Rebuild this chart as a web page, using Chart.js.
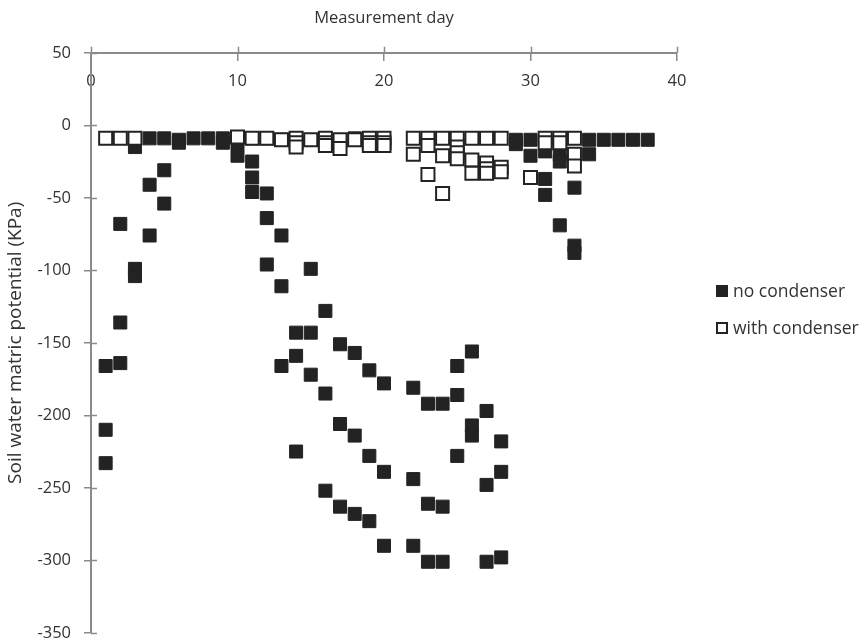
<!DOCTYPE html>
<html>
<head>
<meta charset="utf-8">
<script src="https://cdn.jsdelivr.net/npm/chart.js@4.4.1/dist/chart.umd.min.js"></script>
<style>
  html, body { margin: 0; padding: 0; background: #ffffff; }
  #wrap { width: 864px; height: 644px; }
</style>
</head>
<body>
<div id="wrap"><canvas id="c" width="864" height="644"></canvas></div>
<script>
// Soil water matric potential readings (kPa) by measurement day
const noCondenserDays = [
  1, 1, 1, 2, 2, 2, 3, 3, 3, 4, 4, 4, 5, 5, 5, 6, 6, 7, 8, 9, 9, 10, 10,
  11, 11, 11, 11, 12, 12, 12, 12, 13, 13, 13, 13, 14, 14, 14, 15, 15, 15,
  16, 16, 16, 17, 17, 17, 18, 18, 18, 18, 19, 19, 19, 20, 20, 20,
  22, 22, 22, 23, 23, 23, 24, 24, 24, 25, 25, 25, 26, 26, 26, 27, 27, 27,
  28, 28, 28, 29, 29, 30, 30, 31, 31, 31, 31, 32, 32, 32, 33, 33, 33,
  34, 34, 35, 36, 37, 38
];
const noCondenserValues = [
  -166, -210, -233, -68, -136, -164, -15, -99, -104, -9, -41, -76, -9, -31, -54, -10, -12, -9, -9, -9, -12, -12, -21,
  -9, -25, -36, -46, -9, -47, -64, -96, -10, -76, -111, -166, -143, -159, -225, -99, -143, -172,
  -128, -185, -252, -151, -206, -263, -9, -157, -214, -268, -169, -228, -273, -178, -239, -290,
  -181, -244, -290, -192, -261, -301, -192, -263, -301, -166, -186, -228, -156, -207, -214, -197, -248, -301,
  -218, -239, -298, -10, -13, -10, -21, -10, -18, -37, -48, -20, -25, -69, -43, -83, -88,
  -10, -20, -10, -10, -10, -10
];
const withCondenserDays = [
  1, 2, 3, 10, 11, 12, 13, 14, 14, 14, 15, 16, 16, 16, 17, 17, 18, 19, 19, 19, 20, 20, 20,
  22, 22, 23, 23, 23, 24, 24, 24, 25, 25, 25, 25, 26, 26, 26, 27, 27, 27, 27, 28, 28, 28,
  30, 31, 31, 32, 32, 33, 33, 33
];
const withCondenserValues = [
  -9, -9, -9, -8, -9, -9, -10, -9, -12, -15, -10, -9, -12, -14, -10, -16, -10, -9, -12, -14, -9, -12, -14,
  -9, -20, -9, -14, -34, -9, -21, -47, -9, -15, -19, -23, -9, -24, -33, -9, -26, -30, -33, -9, -29, -32,
  -36, -9, -12, -9, -12, -9, -20, -28
];
const seriesNames = ['no condenser', 'with condenser'];
const dayTicks = [0, 10, 20, 30, 40];
const potentialTicks = [50, 0, -50, -100, -150, -200, -250, -300, -350];

const FONT = "'Open Sans', 'DejaVu Sans', sans-serif";
const TEXT = '#333333';
const AXIS = '#8a8a8a';
const INK = '#232323';

function pairs(xs, ys) { return xs.map((x, i) => ({ x: x, y: ys[i] })); }

// Tick marks that cross the axis line (the library only draws the outer half)
const crossTicks = {
  id: 'crossTicks',
  afterDraw(chart) {
    const { ctx, scales } = chart;
    const xs = scales.x, ys = scales.y;
    const axisY = ys.getPixelForValue(50);
    const axisX = xs.getPixelForValue(0);
    ctx.save();
    ctx.strokeStyle = AXIS;
    ctx.lineWidth = 1.5;
    ctx.beginPath();
    xs.ticks.forEach(t => {
      const px = Math.round(xs.getPixelForValue(t.value)) + 0.5;
      ctx.moveTo(px, axisY - 6);
      ctx.lineTo(px, axisY);
    });
    ys.ticks.forEach(t => {
      const py = Math.round(ys.getPixelForValue(t.value)) + 0.5;
      ctx.moveTo(axisX, py);
      ctx.lineTo(axisX + 6, py);
    });
    ctx.stroke();
    ctx.restore();
  }
};

// Legend to the right of the plot, one row per series
const sideLegend = {
  id: 'sideLegend',
  afterDraw(chart) {
    const { ctx } = chart;
    const x0 = 716, rows = [291, 328], box = 12;
    ctx.save();
    ctx.font = '17.5px ' + FONT;
    ctx.textBaseline = 'middle';
    ctx.textAlign = 'left';
    chart.data.datasets.forEach((ds, r) => {
      const y = rows[r];
      ctx.fillStyle = ds.backgroundColor;
      ctx.fillRect(x0, y - box / 2, box, box);
      ctx.lineWidth = 2;
      ctx.strokeStyle = ds.borderColor;
      ctx.strokeRect(x0 + 1, y - box / 2 + 1, box - 2, box - 2);
      ctx.fillStyle = TEXT;
      ctx.fillText(ds.label, x0 + box + 5, y + 1);
    });
    ctx.restore();
  }
};

new Chart(document.getElementById('c'), {
  type: 'scatter',
  data: {
    datasets: [
      {
        label: seriesNames[0],
        data: pairs(noCondenserDays, noCondenserValues),
        pointStyle: 'rect',
        pointRadius: 9.2,
        pointHoverRadius: 9.2,
        backgroundColor: INK,
        borderColor: INK,
        borderWidth: 1,
        order: 2
      },
      {
        label: seriesNames[1],
        data: pairs(withCondenserDays, withCondenserValues),
        pointStyle: 'rect',
        pointRadius: 9.2,
        pointHoverRadius: 9.2,
        backgroundColor: '#ffffff',
        borderColor: INK,
        borderWidth: 2,
        order: 1
      }
    ]
  },
  options: {
    responsive: false,
    animation: false,
    events: [],
    layout: { padding: { left: 0, right: 187, top: 0, bottom: 11 } },
    plugins: {
      legend: { display: false },
      tooltip: { enabled: false },
      title: {
        display: true,
        text: 'Measurement day',
        fullSize: false,
        color: TEXT,
        font: { family: FONT, size: 16.5, weight: 'normal' },
        padding: { top: 8, bottom: 25 }
      }
    },
    scales: {
      x: {
        type: 'linear',
        position: { y: 50 },
        min: 0,
        max: 40,
        afterBuildTicks: s => { s.ticks = dayTicks.map(v => ({ value: v })); },
        grid: { display: true, drawOnChartArea: false, drawTicks: true, tickLength: 7, color: AXIS, lineWidth: 1.5 },
        border: { display: true, color: AXIS, width: 2 },
        ticks: { color: TEXT, font: { family: FONT, size: 16.5 }, padding: 12, maxRotation: 0 }
      },
      y: {
        type: 'linear',
        position: 'left',
        min: -350,
        max: 50,
        afterBuildTicks: s => { s.ticks = potentialTicks.map(v => ({ value: v })); },
        afterFit: s => { s.width = 91; s.paddingTop = 0; s.paddingBottom = 0; },
        grid: { display: true, drawOnChartArea: false, drawTicks: true, tickLength: 7, color: AXIS, lineWidth: 1.5 },
        border: { display: true, color: AXIS, width: 2 },
        ticks: { color: TEXT, font: { family: FONT, size: 16.5 }, padding: 13 },
        title: {
          display: true,
          text: 'Soil water matric potential (KPa)',
          color: TEXT,
          font: { family: FONT, size: 19, weight: 'normal' },
          padding: { top: 4, bottom: 0 }
        }
      }
    }
  },
  plugins: [crossTicks, sideLegend]
});
</script>
</body>
</html>
